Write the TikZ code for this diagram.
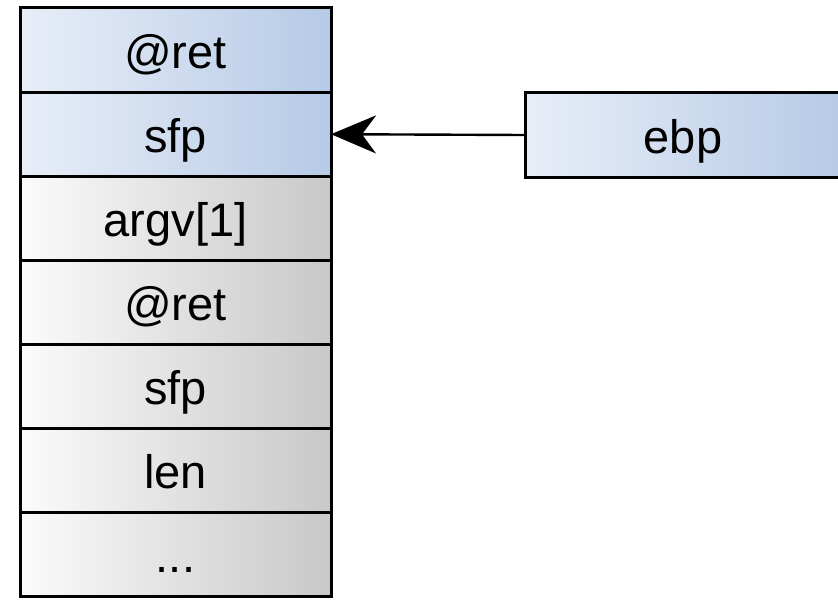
\documentclass[tikz,border=0pt]{standalone}
\usepackage{fontspec}
\setmainfont{Liberation Sans}
\usetikzlibrary{positioning,arrows.meta}

\definecolor{blueL}{HTML}{E8EEF8}
\definecolor{blueR}{HTML}{B6CAE6}
\definecolor{grayL}{HTML}{FBFBFB}
\definecolor{grayR}{HTML}{C8C8C8}

\tikzset{
  cell/.style={draw=black, line width=1.5pt, outer sep=0pt, inner sep=0pt,
    minimum width=155.5pt, minimum height=42.07pt,
    text height=18pt, text depth=0pt,
    font=\fontsize{23.5}{28}\selectfont},
  bluecell/.style={cell, left color=blueL, right color=blueR},
  graycell/.style={cell, left color=grayL, right color=grayR},
  ptr/.style={line width=1.2pt, -{Stealth[length=22.5pt, width=19pt, inset=7pt]}}
}

\begin{document}
\begin{tikzpicture}[x=0.5pt, y=-0.5pt]
\useasboundingbox (0,0) rectangle (838,599);

% stack
\node[bluecell] (ret1) at (175.5,50.07) {@ret};
\node[bluecell, below=0pt of ret1] (sfp1) {sfp};
\node[graycell, below=0pt of sfp1] (argv) {argv[1]};
\node[graycell, below=0pt of argv] (ret2) {@ret};
\node[graycell, below=0pt of ret2] (sfp2) {sfp};
\node[graycell, below=0pt of sfp2] (len) {len};
\node[graycell, below=0pt of len] (dots) {...};

% register
\node[bluecell, minimum width=158pt] (ebp) at (683,135) {ebp};
\draw[ptr] (ebp.west) -- (sfp1.east);
\end{tikzpicture}
\end{document}
